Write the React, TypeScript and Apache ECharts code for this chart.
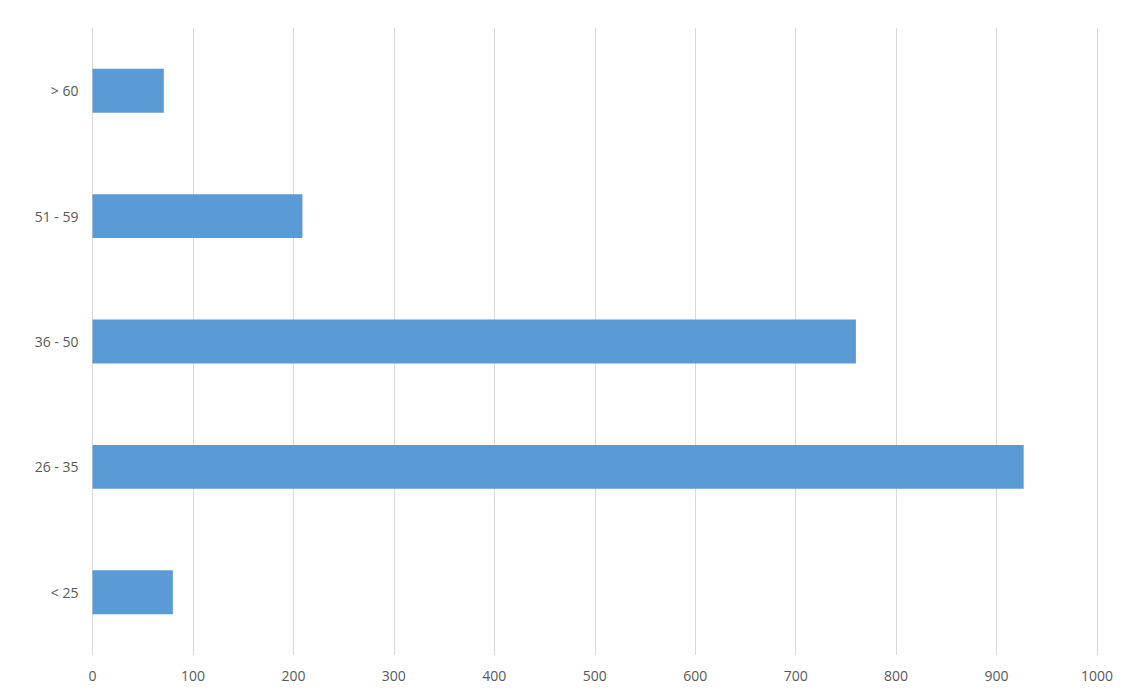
import React, { useEffect, useRef } from "react";
import * as echarts from "echarts";

const categories = ["< 25", "26 - 35", "36 - 50", "51 - 59", "> 60"];
const values = [80, 927, 760, 209, 71];

export default function App() {
  const ref = useRef<HTMLDivElement>(null);
  useEffect(() => {
    if (!ref.current) return;
    const chart = echarts.init(ref.current, null, { renderer: "svg" });
    chart.setOption({
      animation: false,
      backgroundColor: "#ffffff",
      grid: { left: 92.5, right: 46, top: 28, bottom: 44, containLabel: false },
      xAxis: {
        type: "value",
        min: 0,
        max: 1000,
        interval: 100,
        axisLine: { show: false },
        axisTick: { show: false },
        splitLine: { show: true, lineStyle: { color: "#D9D9D9", width: 1 } },
        axisLabel: {
          color: "#595959",
          fontSize: 14,
          fontFamily: "Open Sans",
          margin: 13,
          formatter: (v: number) => String(v),
        },
      },
      yAxis: {
        type: "category",
        data: categories,
        axisLine: { show: false },
        axisTick: { show: false },
        axisLabel: { color: "#595959", fontSize: 14, fontFamily: "Open Sans", margin: 14 },
      },
      series: [
        {
          type: "bar",
          data: values,
          barWidth: "35%",
          itemStyle: { color: "#5B9BD5" },
        },
      ],
    });
    return () => chart.dispose();
  }, []);
  return (
    <div
      ref={ref}
      style={{ position: "fixed", left: 0, top: 0, width: 1143, height: 699 }}
    />
  );
}
